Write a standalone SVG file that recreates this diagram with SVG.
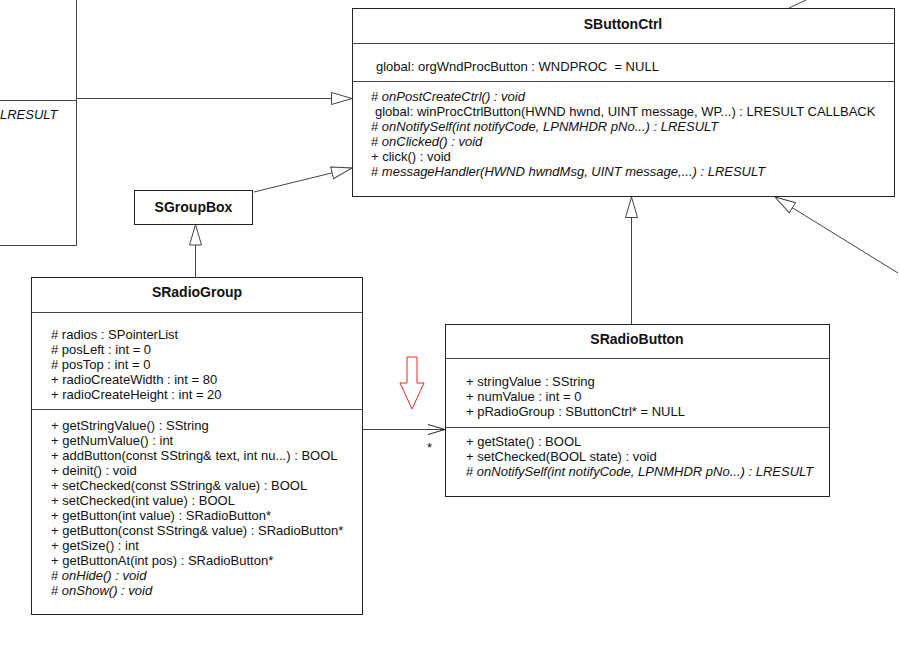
<svg xmlns="http://www.w3.org/2000/svg" width="900" height="645" viewBox="0 0 900 645">
<style>
text{font-family:"Liberation Sans",Arial,sans-serif;font-size:13px;fill:#111}
.t{font-weight:bold;font-size:14px;text-anchor:middle}
.i{font-style:italic}
.box{fill:#fff;stroke:#222;stroke-width:1}
.sep{stroke:#444;stroke-width:1}
.ln{stroke:#444;stroke-width:1;fill:none}
</style>
<defs>
<marker id="tri" markerUnits="userSpaceOnUse" markerWidth="24" markerHeight="14" refX="21" refY="7" orient="auto">
<path d="M0.5,1 L21,7 L0.5,13 Z" fill="#fff" stroke="#444" stroke-width="1"/>
</marker>
<marker id="open" markerUnits="userSpaceOnUse" markerWidth="20" markerHeight="12" refX="17" refY="6" orient="auto">
<path d="M0,1 L17,6 L0,11" fill="none" stroke="#222" stroke-width="1"/>
</marker>
</defs>
<rect width="900" height="645" fill="#fff"/>

<g id="left-partial">
<path class="ln" d="M76.5,0 V245.5 H0 M0,100.5 H76.5" stroke="#222"/>
<text x="0" y="119" class="i">LRESULT</text>
</g>

<g id="connectors">
<line class="ln" x1="76" y1="98.5" x2="352" y2="98.5" marker-end="url(#tri)"/>
<line class="ln" x1="254" y1="192" x2="352" y2="168" marker-end="url(#tri)"/>
<line class="ln" x1="195.5" y1="277" x2="195.5" y2="224.5" marker-end="url(#tri)"/>
<line class="ln" x1="631.5" y1="324" x2="631.5" y2="197" marker-end="url(#tri)"/>
<line class="ln" x1="898" y1="273" x2="775" y2="197" marker-end="url(#tri)"/>
<line class="ln" x1="789" y1="8" x2="806" y2="0"/>
<line class="ln" x1="363" y1="429.5" x2="445" y2="429.5" marker-end="url(#open)"/>
<text x="427" y="452" font-size="11">*</text>
</g>

<g id="SButtonCtrl">
<rect class="box" x="352.5" y="8.5" width="542" height="188"/>
<line class="sep" x1="352.5" y1="43.5" x2="894.5" y2="43.5"/>
<line class="sep" x1="352.5" y1="81.5" x2="894.5" y2="81.5"/>
<text class="t" x="623" y="29">SButtonCtrl</text>
<text x="376" y="71">global: orgWndProcButton : WNDPROC &#160;= NULL</text>
<text x="371" y="101"># <tspan class="i">onPostCreateCtrl() : void</tspan></text>
<text x="375" y="116">global: winProcCtrlButton(HWND hwnd, UINT message, WP...) : LRESULT CALLBACK</text>
<text x="371" y="131"># <tspan class="i">onNotifySelf(int notifyCode, LPNMHDR pNo...) : LRESULT</tspan></text>
<text x="371" y="146"># <tspan class="i">onClicked() : void</tspan></text>
<text x="371" y="161">+ click() : void</text>
<text x="371" y="176"># <tspan class="i">messageHandler(HWND hwndMsg, UINT message,...) : LRESULT</tspan></text>
</g>

<g id="SGroupBox">
<rect class="box" x="134.5" y="190.5" width="118" height="34"/>
<text class="t" x="193.5" y="212">SGroupBox</text>
</g>

<g id="SRadioGroup">
<rect class="box" x="31.5" y="277.5" width="331" height="337"/>
<line class="sep" x1="31.5" y1="312.5" x2="362.5" y2="312.5"/>
<line class="sep" x1="31.5" y1="409.5" x2="362.5" y2="409.5"/>
<text class="t" x="197" y="297">SRadioGroup</text>
<text x="51" y="339"># radios : SPointerList</text>
<text x="51" y="354"># posLeft : int = 0</text>
<text x="51" y="369"># posTop : int = 0</text>
<text x="51" y="384">+ radioCreateWidth : int = 80</text>
<text x="51" y="399">+ radioCreateHeight : int = 20</text>
<text x="51" y="429.5">+ getStringValue() : SString</text>
<text x="51" y="444.5">+ getNumValue() : int</text>
<text x="51" y="459.5">+ addButton(const SString&amp; text, int nu...) : BOOL</text>
<text x="51" y="474.5">+ deinit() : void</text>
<text x="51" y="489.5">+ setChecked(const SString&amp; value) : BOOL</text>
<text x="51" y="504.5">+ setChecked(int value) : BOOL</text>
<text x="51" y="519.5">+ getButton(int value) : SRadioButton*</text>
<text x="51" y="534.5">+ getButton(const SString&amp; value) : SRadioButton*</text>
<text x="51" y="549.5">+ getSize() : int</text>
<text x="51" y="564.5">+ getButtonAt(int pos) : SRadioButton*</text>
<text x="51" y="579.5"># <tspan class="i">onHide() : void</tspan></text>
<text x="51" y="594.5"># <tspan class="i">onShow() : void</tspan></text>
</g>

<g id="SRadioButton">
<rect class="box" x="445.5" y="324.5" width="384" height="172"/>
<line class="sep" x1="445.5" y1="358.5" x2="829.5" y2="358.5"/>
<line class="sep" x1="445.5" y1="427.5" x2="829.5" y2="427.5"/>
<text class="t" x="637" y="344">SRadioButton</text>
<text x="466" y="386">+ stringValue : SString</text>
<text x="466" y="401">+ numValue : int = 0</text>
<text x="466" y="416">+ pRadioGroup : SButtonCtrl* = NULL</text>
<text x="466" y="446">+ getState() : BOOL</text>
<text x="466" y="461">+ setChecked(BOOL state) : void</text>
<text x="466" y="476"># <tspan class="i">onNotifySelf(int notifyCode, LPNMHDR pNo...) : LRESULT</tspan></text>
</g>

<g id="red-arrow">
<polygon points="407,357 417,357 417,383 424,383 412,409 400,383 407,383" fill="#fff" stroke="#e8282a" stroke-width="1"/>
</g>
</svg>
